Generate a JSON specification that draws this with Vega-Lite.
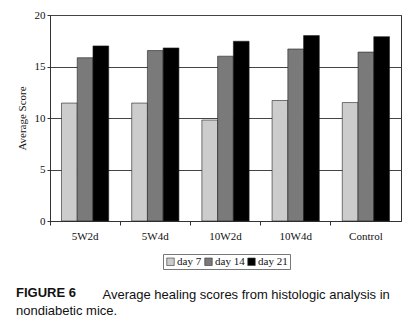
{
  "$schema": "https://vega.github.io/schema/vega-lite/v6.json",
  "width": 351,
  "height": 206,
  "autosize": "none",
  "padding": {"left": 50, "top": 15, "right": 14, "bottom": 101},
  "background": "white",
  "config": {
    "view": {"stroke": "#333", "strokeWidth": 1},
    "axis": {"labelFont": "Liberation Serif", "titleFont": "Liberation Serif", "labelColor": "#111", "titleColor": "#111", "labelFontSize": 11, "titleFontSize": 11, "titleFontWeight": "normal", "domainColor": "#333", "tickColor": "#333"},
    "legend": {"labelFont": "Liberation Serif", "labelFontSize": 11, "labelColor": "#111"}
  },
  "title": {
    "text": "FIGURE 6",
    "subtitle": "nondiabetic mice.",
    "orient": "top",
    "anchor": "start",
    "frame": "group",
    "offset": -309,
    "dx": -34,
    "font": "Liberation Sans",
    "fontSize": 13,
    "fontWeight": "bold",
    "color": "#111",
    "subtitleFont": "Liberation Sans",
    "subtitleFontSize": 13,
    "subtitleColor": "#111",
    "subtitlePadding": 5
  },
  "data": {
    "values": [
      {"group": "5W2d", "day": "day 7", "score": 11.45},
      {"group": "5W2d", "day": "day 14", "score": 15.85},
      {"group": "5W2d", "day": "day 21", "score": 17.0},
      {"group": "5W4d", "day": "day 7", "score": 11.45},
      {"group": "5W4d", "day": "day 14", "score": 16.55},
      {"group": "5W4d", "day": "day 21", "score": 16.8},
      {"group": "10W2d", "day": "day 7", "score": 9.8},
      {"group": "10W2d", "day": "day 14", "score": 16.0},
      {"group": "10W2d", "day": "day 21", "score": 17.45},
      {"group": "10W4d", "day": "day 7", "score": 11.7},
      {"group": "10W4d", "day": "day 14", "score": 16.7},
      {"group": "10W4d", "day": "day 21", "score": 18.0},
      {"group": "Control", "day": "day 7", "score": 11.5},
      {"group": "Control", "day": "day 14", "score": 16.4},
      {"group": "Control", "day": "day 21", "score": 17.9}
    ]
  },
  "mark": {"type": "bar", "stroke": "#222", "strokeWidth": 0.6},
  "encoding": {
    "x": {
      "field": "group",
      "type": "nominal",
      "sort": ["5W2d", "5W4d", "10W2d", "10W4d", "Control"],
      "scale": {"paddingInner": 0, "paddingOuter": 0},
      "axis": {
        "title": "Average healing scores from histologic analysis in",
        "titleFont": "Liberation Sans",
        "titleFontSize": 13,
        "titleAnchor": "start",
        "titleAlign": "left",
        "titleBaseline": "alphabetic",
        "titleX": 52,
        "titleY": 77,
        "labelAngle": 0,
        "bandPosition": 0,
        "tickSize": 4,
        "labelPadding": 5,
        "grid": false
      }
    },
    "xOffset": {
      "field": "day",
      "type": "nominal",
      "sort": ["day 7", "day 14", "day 21"],
      "scale": {"paddingInner": 0, "paddingOuter": 0.73}
    },
    "y": {
      "field": "score",
      "type": "quantitative",
      "scale": {"domain": [0, 20]},
      "axis": {
        "title": "Average Score",
        "values": [0, 5, 10, 15, 20],
        "grid": true,
        "gridColor": "#444",
        "gridWidth": 1,
        "tickSize": 3,
        "labelPadding": 2,
        "titlePadding": 7
      }
    },
    "color": {
      "field": "day",
      "type": "nominal",
      "sort": ["day 7", "day 14", "day 21"],
      "scale": {"domain": ["day 7", "day 14", "day 21"], "range": ["#cccccc", "#7a7a7a", "#000000"]},
      "legend": {
        "title": null,
        "orient": "none",
        "direction": "horizontal",
        "legendX": 113,
        "legendY": 239,
        "strokeColor": "#777",
        "padding": 2,
        "symbolType": "square",
        "symbolSize": 56,
        "symbolStrokeColor": "#333",
        "symbolStrokeWidth": 0.6,
        "symbolOpacity": 1,
        "columnPadding": 1,
        "labelOffset": 1
      }
    }
  }
}
